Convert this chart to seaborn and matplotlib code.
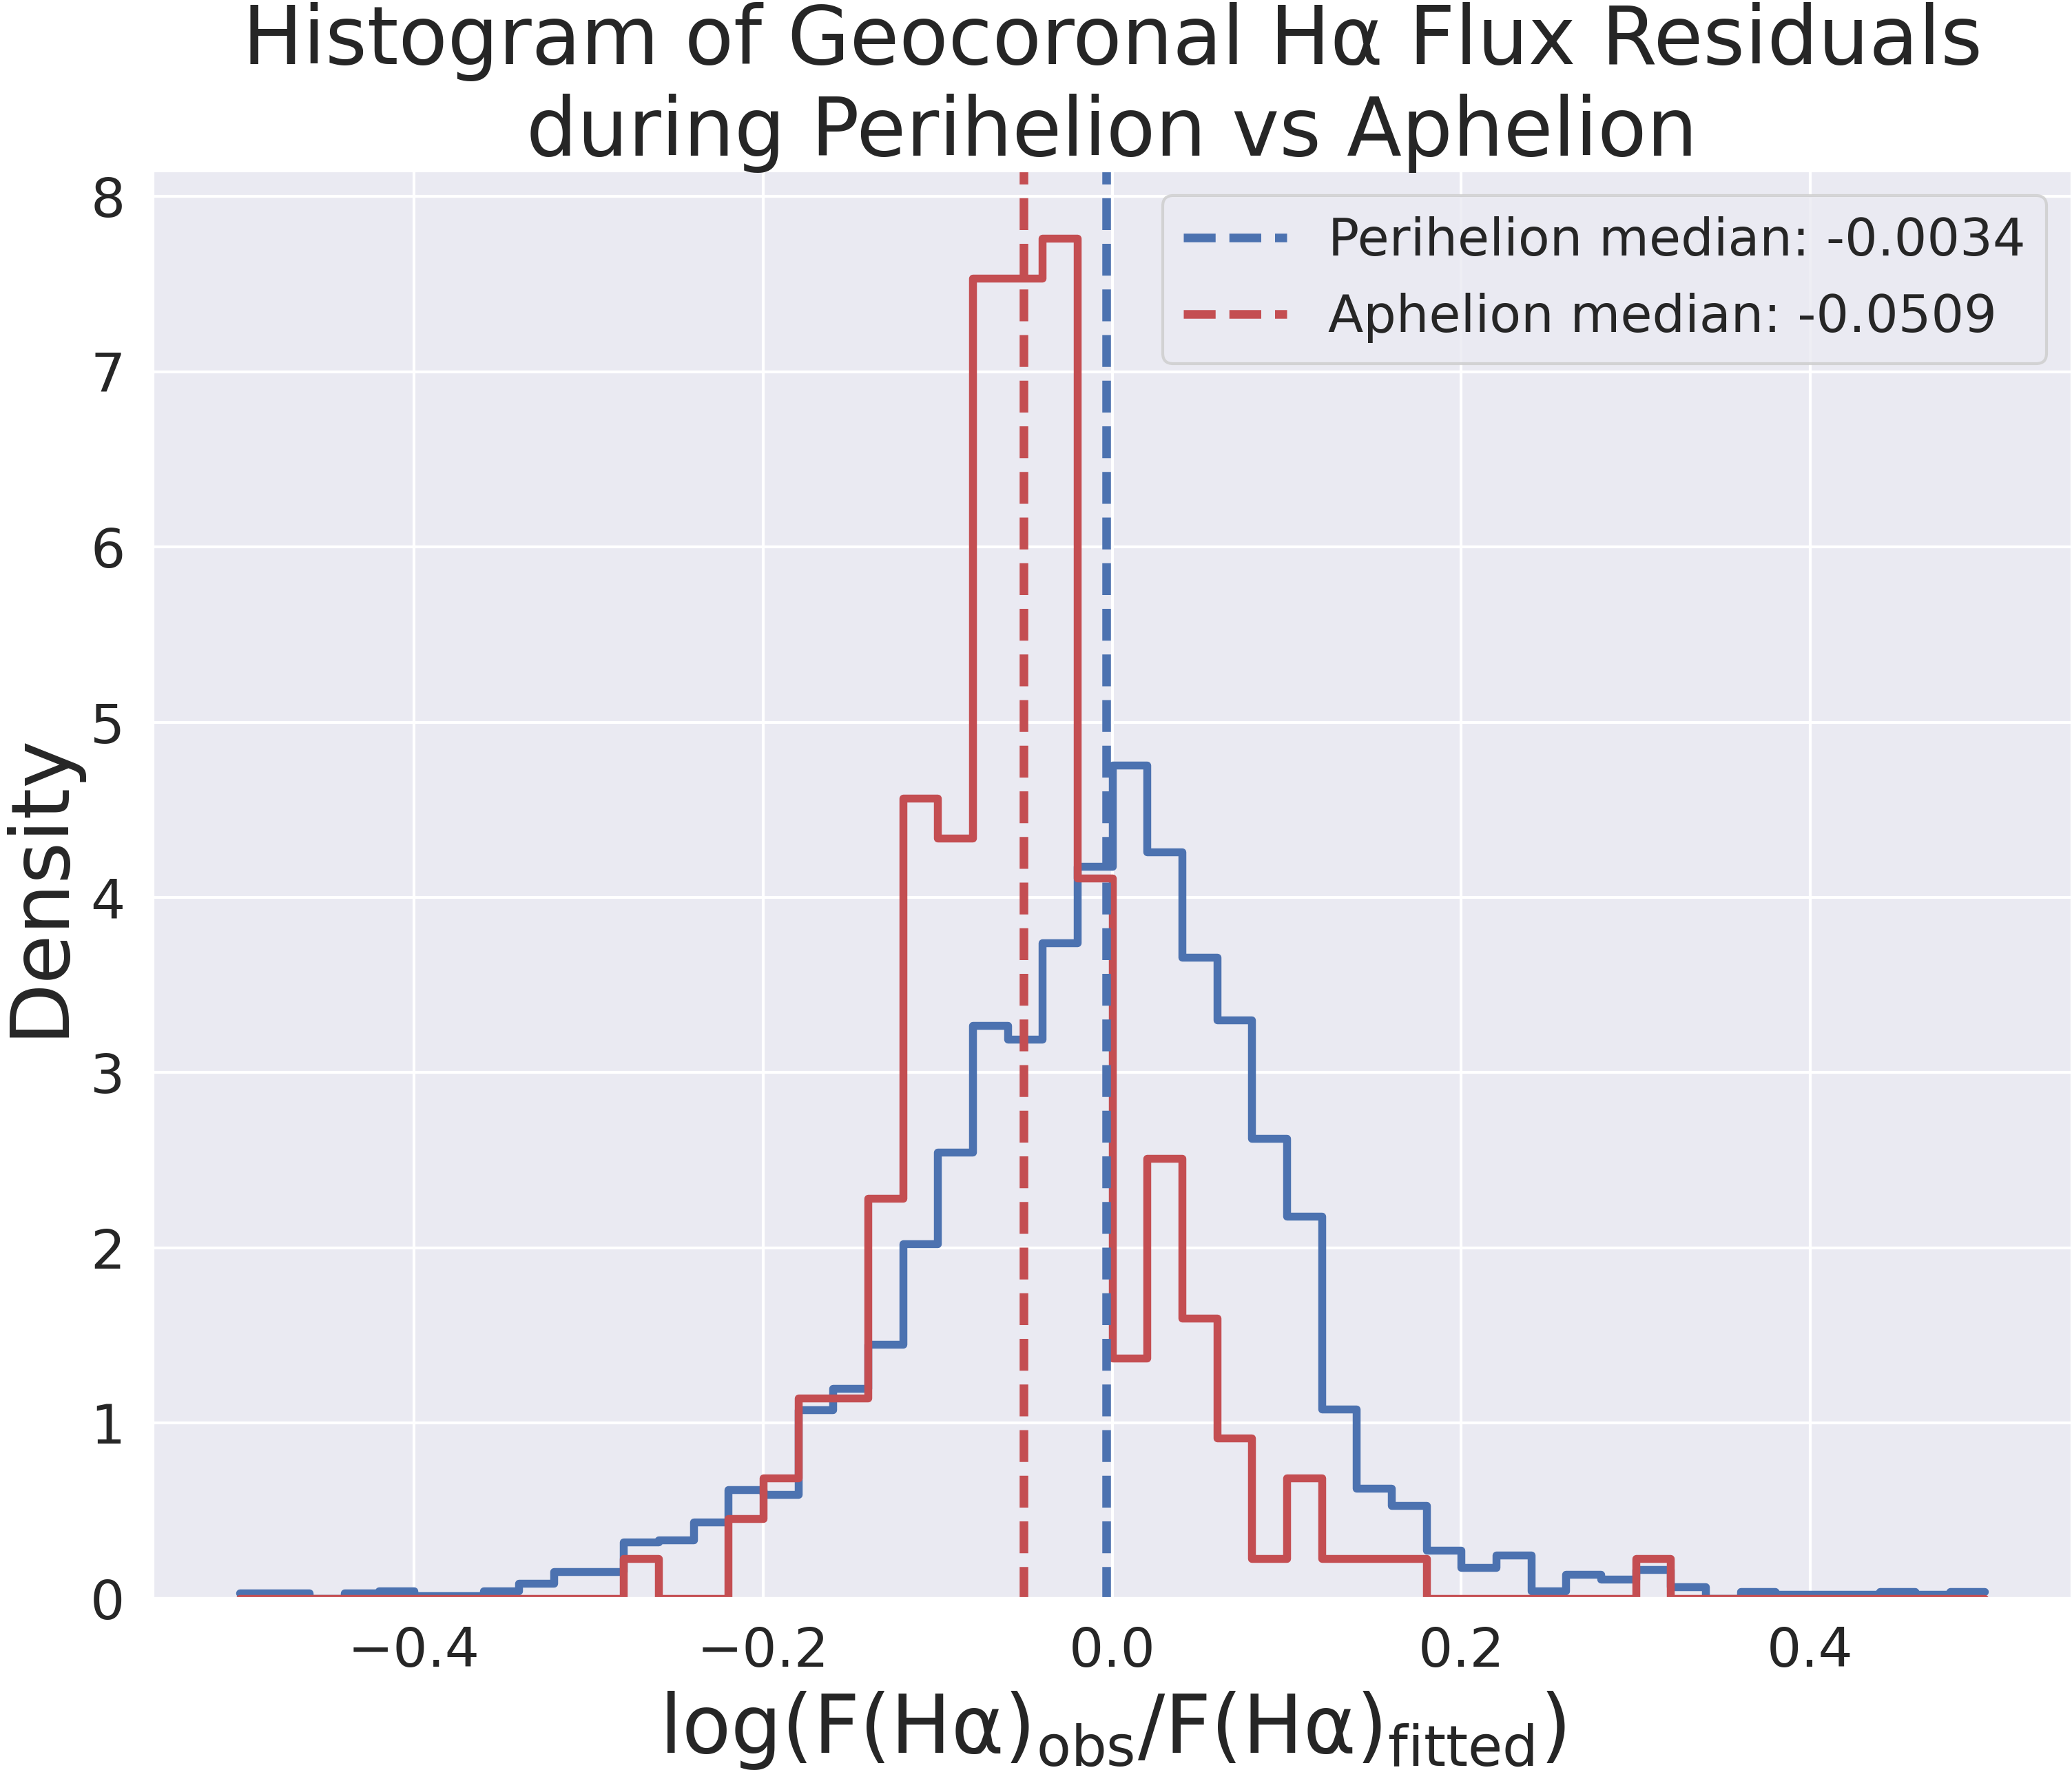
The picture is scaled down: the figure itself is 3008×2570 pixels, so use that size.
import numpy as np
import pandas as pd
import matplotlib
matplotlib.use("Agg")
import matplotlib.pyplot as plt
import seaborn as sns

# 50 bins of 0.02 from -0.5 to 0.5
n_bins = 50
bin_range = (-0.5, 0.5)
bin_centers = np.linspace(-0.49, 0.49, n_bins)

# perihelion residuals, density per bin
peri_density = [0.030, 0.030, 0.0, 0.030, 0.043, 0.015, 0.015, 0.043, 0.085, 0.153,
                0.153, 0.321, 0.335, 0.437, 0.620, 0.594, 1.077, 1.200, 1.453, 2.030,
                2.555, 3.280, 3.200, 3.750, 4.190, 4.770, 4.270, 3.670, 3.310, 2.630,
                2.186, 1.083, 0.631, 0.529, 0.276, 0.176, 0.247, 0.041, 0.135, 0.109,
                0.164, 0.065, 0.0, 0.040, 0.024, 0.024, 0.024, 0.040, 0.024, 0.040]

# aphelion residuals, counts per bin
aph_counts = [0, 0, 0, 0, 0, 0, 0, 0, 0, 0,
              0, 1, 0, 0, 2, 3, 5, 5, 10, 20,
              19, 33, 33, 34, 18, 6, 11, 7, 4, 1,
              3, 1, 1, 1, 0, 0, 0, 0, 0, 0,
              1, 0, 0, 0, 0, 0, 0, 0, 0, 0]

peri_median = -0.0034
aph_median = -0.0509

df_peri = pd.DataFrame({"resid": bin_centers, "w": peri_density})
df_aph = pd.DataFrame({"resid": bin_centers, "w": aph_counts})

sns.set_theme(style="darkgrid")
sns.set_color_codes("deep")

fig = plt.figure(figsize=(10.027, 8.567), dpi=300)
ax = fig.add_axes([0.0735, 0.0970, 0.9265, 0.8069])

sns.histplot(data=df_peri, x="resid", weights="w", bins=n_bins, binrange=bin_range,
             stat="density", element="step", fill=False, color="b", linewidth=2.75, ax=ax)
sns.histplot(data=df_aph, x="resid", weights="w", bins=n_bins, binrange=bin_range,
             stat="density", element="step", fill=False, color="r", linewidth=2.75, ax=ax)

ax.axvline(peri_median, color="b", linestyle="--", linewidth=3,
           label=f"Perihelion median: {peri_median:.4f}")
ax.axvline(aph_median, color="r", linestyle="--", linewidth=3,
           label=f"Aphelion median: {aph_median:.4f}")

ax.set_xlim(-0.55, 0.55)
ax.set_xticks([-0.4, -0.2, 0.0, 0.2, 0.4])
ax.tick_params(labelsize=19)
ax.set_title("Histogram of Geocoronal H\u03b1 Flux Residuals\nduring Perihelion vs Aphelion",
             fontsize=28, pad=5)
ax.set_xlabel("log(F(H\u03b1)$_{\\mathrm{obs}}$/F(H\u03b1)$_{\\mathrm{fitted}}$)", fontsize=28)
ax.set_ylabel("Density", fontsize=28)
ax.legend(loc="upper right", fontsize=18)

fig.savefig("out.png", dpi=300)
